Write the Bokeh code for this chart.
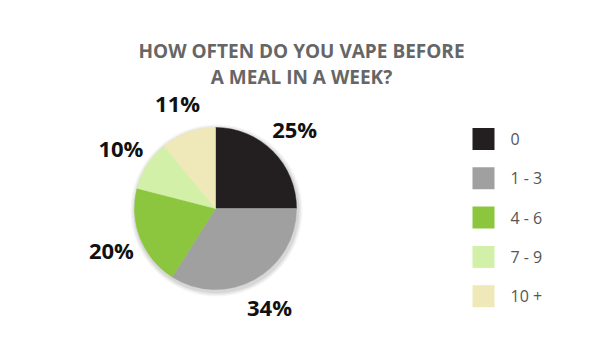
import numpy as np
from bokeh.plotting import figure
from bokeh.models import Range1d, ColumnDataSource
from bokeh.core.properties import value
from bokeh.embed import file_html
from bokeh.resources import INLINE

categories = ["0", "1 - 3", "4 - 6", "7 - 9", "10 +"]
percents = [25, 34, 20, 10, 11]
colors = ["#231f20", "#a0a0a0", "#8cc63f", "#d3f0a8", "#efe9b9"]
title_lines = ["HOW OFTEN DO YOU VAPE BEFORE", "A MEAL IN A WEEK?"]

W, H = 588, 348
p = figure(width=W, height=H, output_backend="svg", toolbar_location=None,
           x_range=Range1d(0, W), y_range=Range1d(0, H), min_border=0,
           outline_line_color=None, background_fill_color="white")
p.axis.visible = False
p.grid.visible = False

cx, cy, r = 215, 140, 81
vals = np.array(percents, dtype=float)
frac = vals / vals.sum()
ends = np.pi / 2 - 2 * np.pi * np.cumsum(frac)
starts = np.concatenate([[np.pi / 2], ends[:-1]])
mids = (starts + ends) / 2

# soft shadow
for dr, a in [(5, 0.04), (3.5, 0.05), (2, 0.07)]:
    p.circle(x=[cx + 1], y=[cy - 2], radius=r + dr, fill_color="#000000",
             fill_alpha=a, line_color=None)

src = ColumnDataSource(dict(start=ends, end=starts, color=colors,
                            cat=categories))
p.wedge(x=cx, y=cy, radius=r, start_angle="start", end_angle="end",
        fill_color="color", line_color="color", line_width=0.5, source=src)

lr = 112
lab = ColumnDataSource(dict(x=cx + lr * np.cos(mids), y=cy + lr * np.sin(mids),
                            t=[f"{v}%" for v in percents]))
p.text(x="x", y="y", text="t", source=lab, text_align="center",
       text_baseline="middle", text_font=value("Open Sans"),
       text_font_style="bold", text_font_size="22px", text_color="#111111")

# title
p.text(x=[301, 301], y=[H - 50, H - 76], text=title_lines, text_align="center",
       text_baseline="middle", text_font=value("Open Sans"),
       text_font_style="bold", text_font_size="19px", text_color="#666666")

# legend
n = len(categories)
ly = H - (138.5 + 39.3 * np.arange(n))
p.rect(x=[483] * n, y=ly, width=22, height=22, fill_color=colors,
       line_color=None)
p.text(x=[510] * n, y=ly, text=categories, text_align="left",
       text_baseline="middle", text_font=value("Open Sans"),
       text_font_size="16px", text_color="#555555")

open("out.html", "w").write(file_html(p, INLINE))
